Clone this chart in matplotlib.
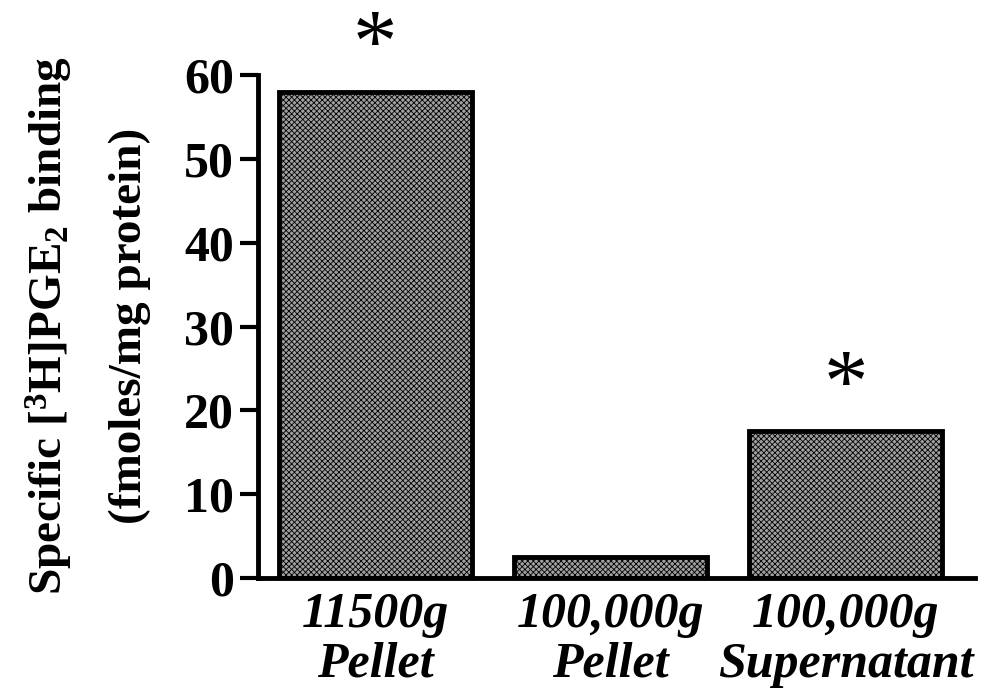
import matplotlib
matplotlib.use("Agg")
import matplotlib.pyplot as plt
import numpy as np

plt.rcParams["font.family"] = "Liberation Serif"
plt.rcParams["font.weight"] = "bold"
plt.rcParams["mathtext.fontset"] = "custom"
plt.rcParams["mathtext.rm"] = "Liberation Serif:bold"
plt.rcParams["mathtext.default"] = "rm"
plt.rcParams["hatch.linewidth"] = 0.6
plt.rcParams["hatch.color"] = "#555555"

# binding by fraction
fractions = ["11500g\nPellet", "100,000g\nPellet", "100,000g\nSupernatant"]
binding = [58.0, 2.5, 17.5]
significant = [True, False, True]
yticks = [0, 10, 20, 30, 40, 50, 60]

fig = plt.figure(figsize=(9.95, 7), dpi=100)
ax = fig.add_axes([0.259, 0.174, 0.721, 0.719])

x = np.arange(len(fractions))
bars = ax.bar(x, binding, width=0.82, facecolor="#a0a0a0", edgecolor="black",
              linewidth=3.5, hatch="xxxxxx", zorder=2)

for xi, v, s in zip(x, binding, significant):
    if s:
        ax.annotate("*", (xi, v), xytext=(0, 2), textcoords="offset points",
                    ha="center", va="bottom", fontsize=64, fontweight="normal")

ax.set_xlim(-0.5, 2.55)
ax.set_ylim(0, 60)
ax.set_yticks(yticks)
ax.set_yticklabels([str(t) for t in yticks], fontsize=36, fontweight="bold")
ax.set_xticks(x)
ax.set_xticklabels(fractions, fontsize=36, fontweight="bold", style="italic",
                   linespacing=1.1)
ax.tick_params(axis="y", direction="out", length=13, width=3, pad=4)
ax.tick_params(axis="x", length=0, pad=10)

for side in ["top", "right"]:
    ax.spines[side].set_visible(False)
for side in ["left", "bottom"]:
    ax.spines[side].set_linewidth(3.5)

fig.text(0.05, 0.535, "Specific [$^{3}$H]PGE$_{2}$ binding", rotation=90,
         ha="center", va="center", fontsize=34, fontweight="bold")
fig.text(0.13, 0.535, "(fmoles/mg protein)", rotation=90,
         ha="center", va="center", fontsize=34, fontweight="bold")

fig.savefig("out.png", dpi=100, facecolor="white")
